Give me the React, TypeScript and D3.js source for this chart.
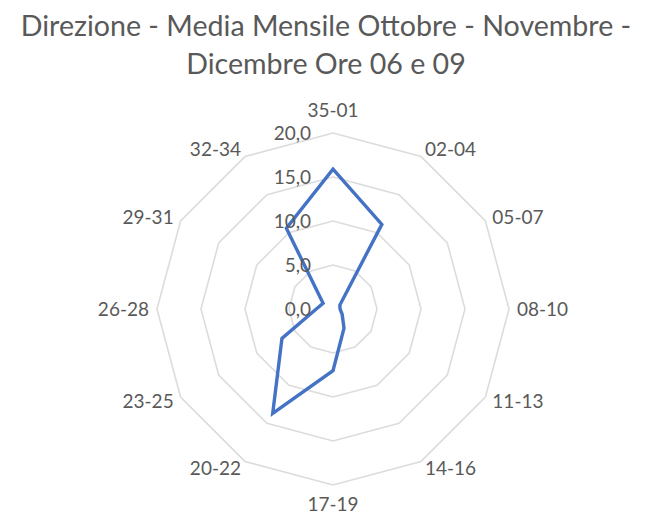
import React from 'react';
import * as d3 from 'd3';

const categories = ['35-01', '02-04', '05-07', '08-10', '11-13', '14-16', '17-19', '20-22', '23-25', '26-28', '29-31', '32-34'];
const values = [15.9, 11.1, 0.9, 0.8, 1.2, 2.5, 7.0, 13.7, 6.7, 1.9, 1.3, 10.6];
const ticks = [0, 5, 10, 15, 20];
const titleLines = ['Direzione - Media Mensile Ottobre - Novembre -', 'Dicembre Ore 06 e 09'];

const width = 654;
const height = 517;
const cx = 333;
const cy = 309;
const R = 176;
const textColor = '#595959';
const font = 'Lato, "Noto Sans", sans-serif';

const App = () => {
  const r = d3.scaleLinear().domain([0, 20]).range([0, R]);
  const angle = (i: number) => (i * 2 * Math.PI) / categories.length;
  const fmt = (v: number) => d3.format('.1f')(v).replace('.', ',');

  const ringPath = (v: number) =>
    d3.lineRadial<string>()
      .angle((_, i) => angle(i))
      .radius(() => r(v))
      .curve(d3.curveLinearClosed)(categories);

  const seriesPath = d3.lineRadial<number>()
    .angle((_, i) => angle(i))
    .radius(d => r(d))
    .curve(d3.curveLinearClosed)(values);

  return (
    <svg width={width} height={height} style={{ position: 'absolute', left: 0, top: 0, background: '#fff' }}>
      <g fill={textColor} fontFamily={font} textAnchor="middle">
        {titleLines.map((t, i) => (
          <text key={t} x={326} y={36 + i * 38} fontSize={28.6}>{t}</text>
        ))}
      </g>
      <g transform={`translate(${cx},${cy})`}>
        {ticks.filter(t => t > 0).map(t => (
          <path key={t} d={ringPath(t) || ''} fill="none" stroke="#dcdcdc" strokeWidth={1.6} />
        ))}
        <path d={seriesPath || ''} fill="none" stroke="#4472c4" strokeWidth={3.4} strokeLinejoin="miter" />
        {ticks.map(t => (
          <text key={t} x={-22} y={-r(t)} dy="0.35em" textAnchor="end" fontSize={19} fontFamily={font} fill={textColor}>
            {fmt(t)}
          </text>
        ))}
        {categories.map((c, i) => {
          const a = angle(i);
          const s = Math.sin(a);
          const co = Math.cos(a);
          const lr = R + 8;
          const vertical = Math.abs(s) < 0.1;
          const x = lr * s;
          const y = -lr * co - (vertical ? (co > 0 ? 15 : -11) : 0);
          const anchor = vertical ? 'middle' : s > 0 ? 'start' : 'end';
          return (
            <text key={c} x={x} y={y} dy="0.35em" textAnchor={anchor} fontSize={19} fontFamily={font} fill={textColor}>
              {c}
            </text>
          );
        })}
      </g>
    </svg>
  );
};

export default App;
